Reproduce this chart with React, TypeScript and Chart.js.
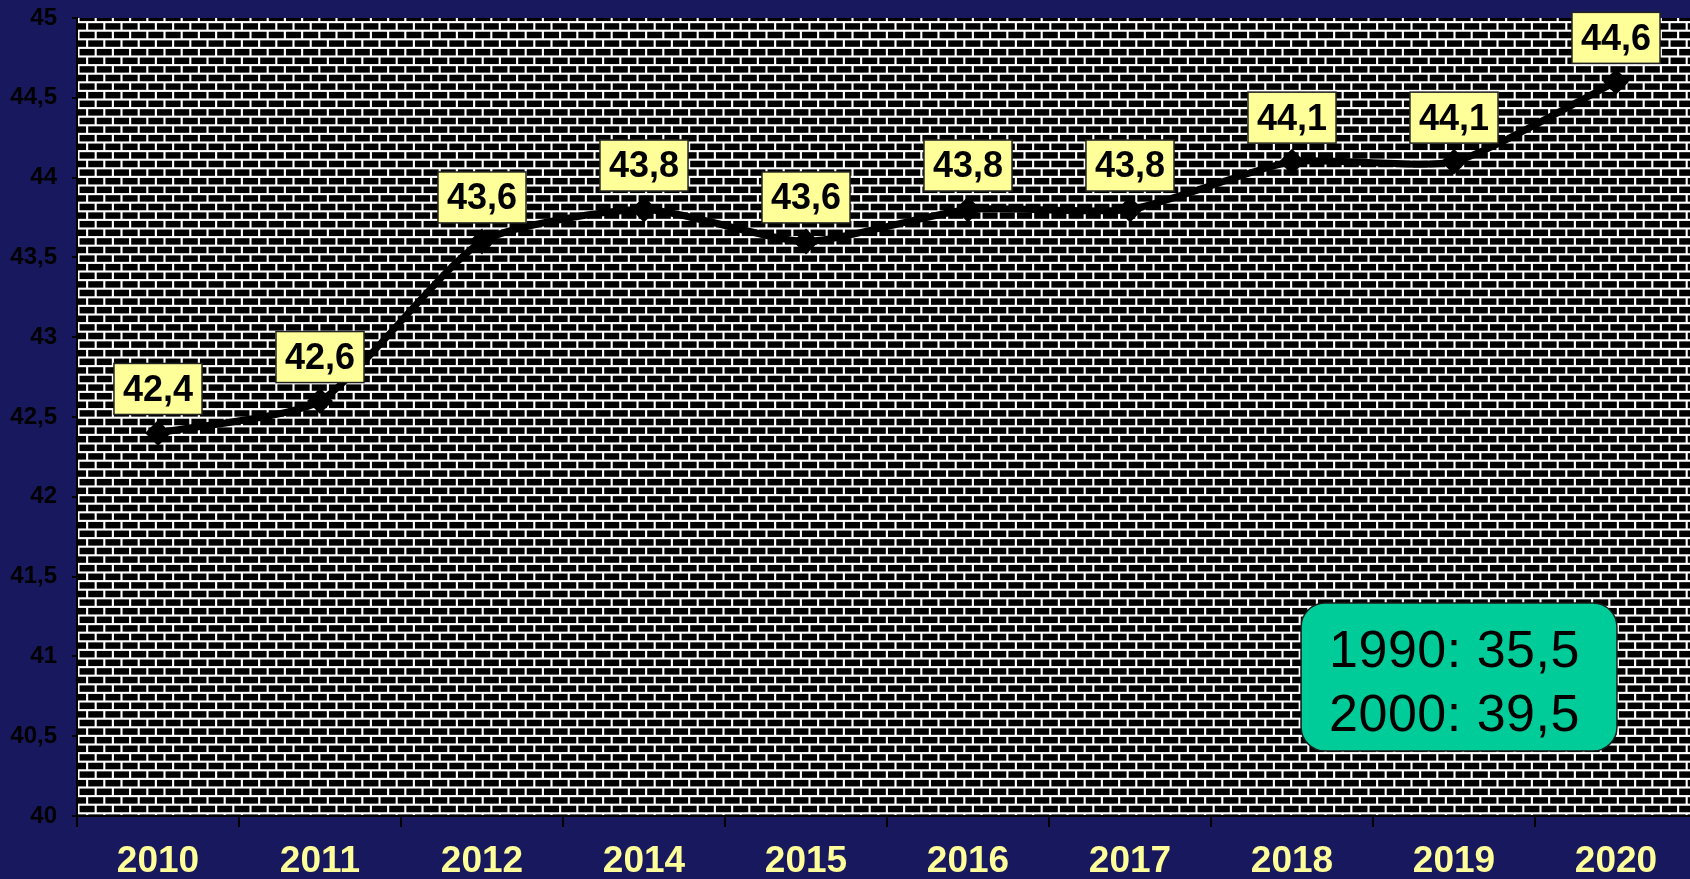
import React, { useEffect, useRef } from "react";
import { Chart, registerables } from "chart.js";

Chart.register(...registerables);

const years = ["2010", "2011", "2012", "2014", "2015", "2016", "2017", "2018", "2019", "2020"];
const values = [42.4, 42.6, 43.6, 43.8, 43.6, 43.8, 43.8, 44.1, 44.1, 44.6];
const noteLines = ["1990: 35,5", "2000: 39,5"];
const yMin = 40;
const yMax = 45;
const yStep = 0.5;

const NAVY = "#18185E";
const YELLOW = "#FFFF99";
const FONT = "'Liberation Sans', Arial, sans-serif";

function makeBrickPattern(ctx: CanvasRenderingContext2D, top: number): CanvasPattern | string {
  const c = document.createElement("canvas");
  c.width = 16;
  c.height = 16;
  const p = c.getContext("2d");
  if (!p) return "#000";
  p.fillStyle = "#000";
  p.fillRect(0, 0, 16, 16);
  p.fillStyle = "#fff";
  p.fillRect(0, 0, 16, 2);
  p.fillRect(0, 8, 16, 2);
  p.fillRect(0, 2, 2, 6);
  p.fillRect(8, 10, 2, 6);
  const pat = ctx.createPattern(c, "repeat");
  if (!pat) return "#000";
  try {
    pat.setTransform(new DOMMatrix().translate(0, top + 3).scale(1.075));
  } catch (e) {}
  return pat;
}

const brickPlugin = {
  id: "brickBg",
  beforeDraw(chart: any) {
    const { ctx, chartArea } = chart;
    ctx.save();
    ctx.fillStyle = NAVY;
    ctx.fillRect(0, 0, chart.width, chart.height);
    ctx.fillStyle = makeBrickPattern(ctx, chartArea.top);
    ctx.fillRect(chartArea.left, chartArea.top, chartArea.right - chartArea.left, chartArea.bottom - chartArea.top);
    ctx.restore();
  },
};

const labelPlugin = {
  id: "boxLabels",
  afterDatasetsDraw(chart: any) {
    const { ctx } = chart;
    const meta = chart.getDatasetMeta(0);
    ctx.save();
    ctx.font = `bold 36px ${FONT}`;
    ctx.textAlign = "center";
    ctx.textBaseline = "middle";
    meta.data.forEach((pt: any, i: number) => {
      const txt = String(values[i]).replace(".", ",");
      const w = ctx.measureText(txt).width + 18;
      const h = 51;
      const cx = pt.x;
      const cy = pt.y - 44;
      ctx.fillStyle = YELLOW;
      ctx.fillRect(cx - w / 2, cy - h / 2, w, h);
      ctx.lineWidth = 1.5;
      ctx.strokeStyle = "#222";
      ctx.strokeRect(cx - w / 2, cy - h / 2, w, h);
      ctx.fillStyle = "#000";
      ctx.fillText(txt, cx, cy + 2);
    });
    ctx.restore();
  },
};

const notePlugin = {
  id: "noteBox",
  afterDraw(chart: any) {
    const { ctx, chartArea } = chart;
    const w = chartArea.right - chartArea.left;
    const hgt = chartArea.bottom - chartArea.top;
    const x = chartArea.left + w * 0.7556;
    const y = chartArea.top + hgt * 0.733;
    const bw = w * 0.195;
    const bh = hgt * 0.1855;
    ctx.save();
    ctx.beginPath();
    (ctx as any).roundRect(x, y, bw, bh, 24);
    ctx.fillStyle = "#00CC99";
    ctx.fill();
    ctx.lineWidth = 1.5;
    ctx.strokeStyle = "#1a1a1a";
    ctx.stroke();
    ctx.fillStyle = "#000";
    ctx.font = `52px ${FONT}`;
    try {
      (ctx as any).letterSpacing = "0.5px";
    } catch (e) {}
    ctx.textAlign = "left";
    ctx.textBaseline = "middle";
    ctx.fillText(noteLines[0], x + 28, y + 50);
    ctx.fillText(noteLines[1], x + 28, y + 114);
    ctx.restore();
  },
};

export default function App() {
  const ref = useRef<HTMLCanvasElement | null>(null);

  useEffect(() => {
    document.body.style.margin = "0";
    document.body.style.overflow = "hidden";
    document.body.style.background = NAVY;
    if (!ref.current) return;
    const chart = new Chart(ref.current, {
      type: "line",
      data: {
        labels: years,
        datasets: [
          {
            data: values,
            borderColor: "#000",
            borderWidth: 7,
            tension: 0.2,
            pointStyle: "rectRot",
            pointRadius: 8,
            pointBackgroundColor: "#000",
            pointBorderColor: "#000",
            fill: false,
            clip: false as any,
          },
        ],
      },
      options: {
        responsive: false,
        animation: false,
        events: [],
        layout: { autoPadding: false, padding: { top: 18, left: 0, right: 0, bottom: 0 } },
        plugins: {
          legend: { display: false },
          tooltip: { enabled: false },
          title: { display: false },
        },
        scales: {
          x: {
            type: "category",
            offset: true,
            afterFit(scale: any) {
              scale.height = 63;
              scale.paddingLeft = 0;
              scale.paddingRight = 0;
            },
            grid: {
              offset: true,
              drawOnChartArea: false,
              drawTicks: true,
              tickLength: 11,
              color: "#000",
              lineWidth: 2,
            },
            border: { display: true, color: "#000", width: 2 },
            ticks: {
              color: YELLOW,
              font: { family: FONT, size: 37, weight: "bold" },
              padding: 13,
              maxRotation: 0,
              autoSkip: false,
            },
          },
          y: {
            min: yMin,
            max: yMax,
            afterFit(scale: any) {
              scale.width = 77;
              scale.paddingTop = 0;
              scale.paddingBottom = 0;
            },
            grid: {
              drawOnChartArea: false,
              drawTicks: true,
              tickLength: 5,
              color: "#000",
              lineWidth: 2,
            },
            border: { display: true, color: "#000", width: 2 },
            ticks: {
              stepSize: yStep,
              color: "#000",
              padding: 15,
              font: { family: FONT, size: 24, weight: "bold" },
              callback: (v: any) => String(v).replace(".", ","),
            },
          },
        },
      },
      plugins: [brickPlugin, labelPlugin, notePlugin],
    });
    return () => chart.destroy();
  }, []);

  return (
    <div style={{ width: 1690, height: 879, overflow: "hidden", background: NAVY }}>
      <canvas ref={ref} width={1697} height={879} style={{ display: "block", width: 1697, height: 879 }} />
    </div>
  );
}
